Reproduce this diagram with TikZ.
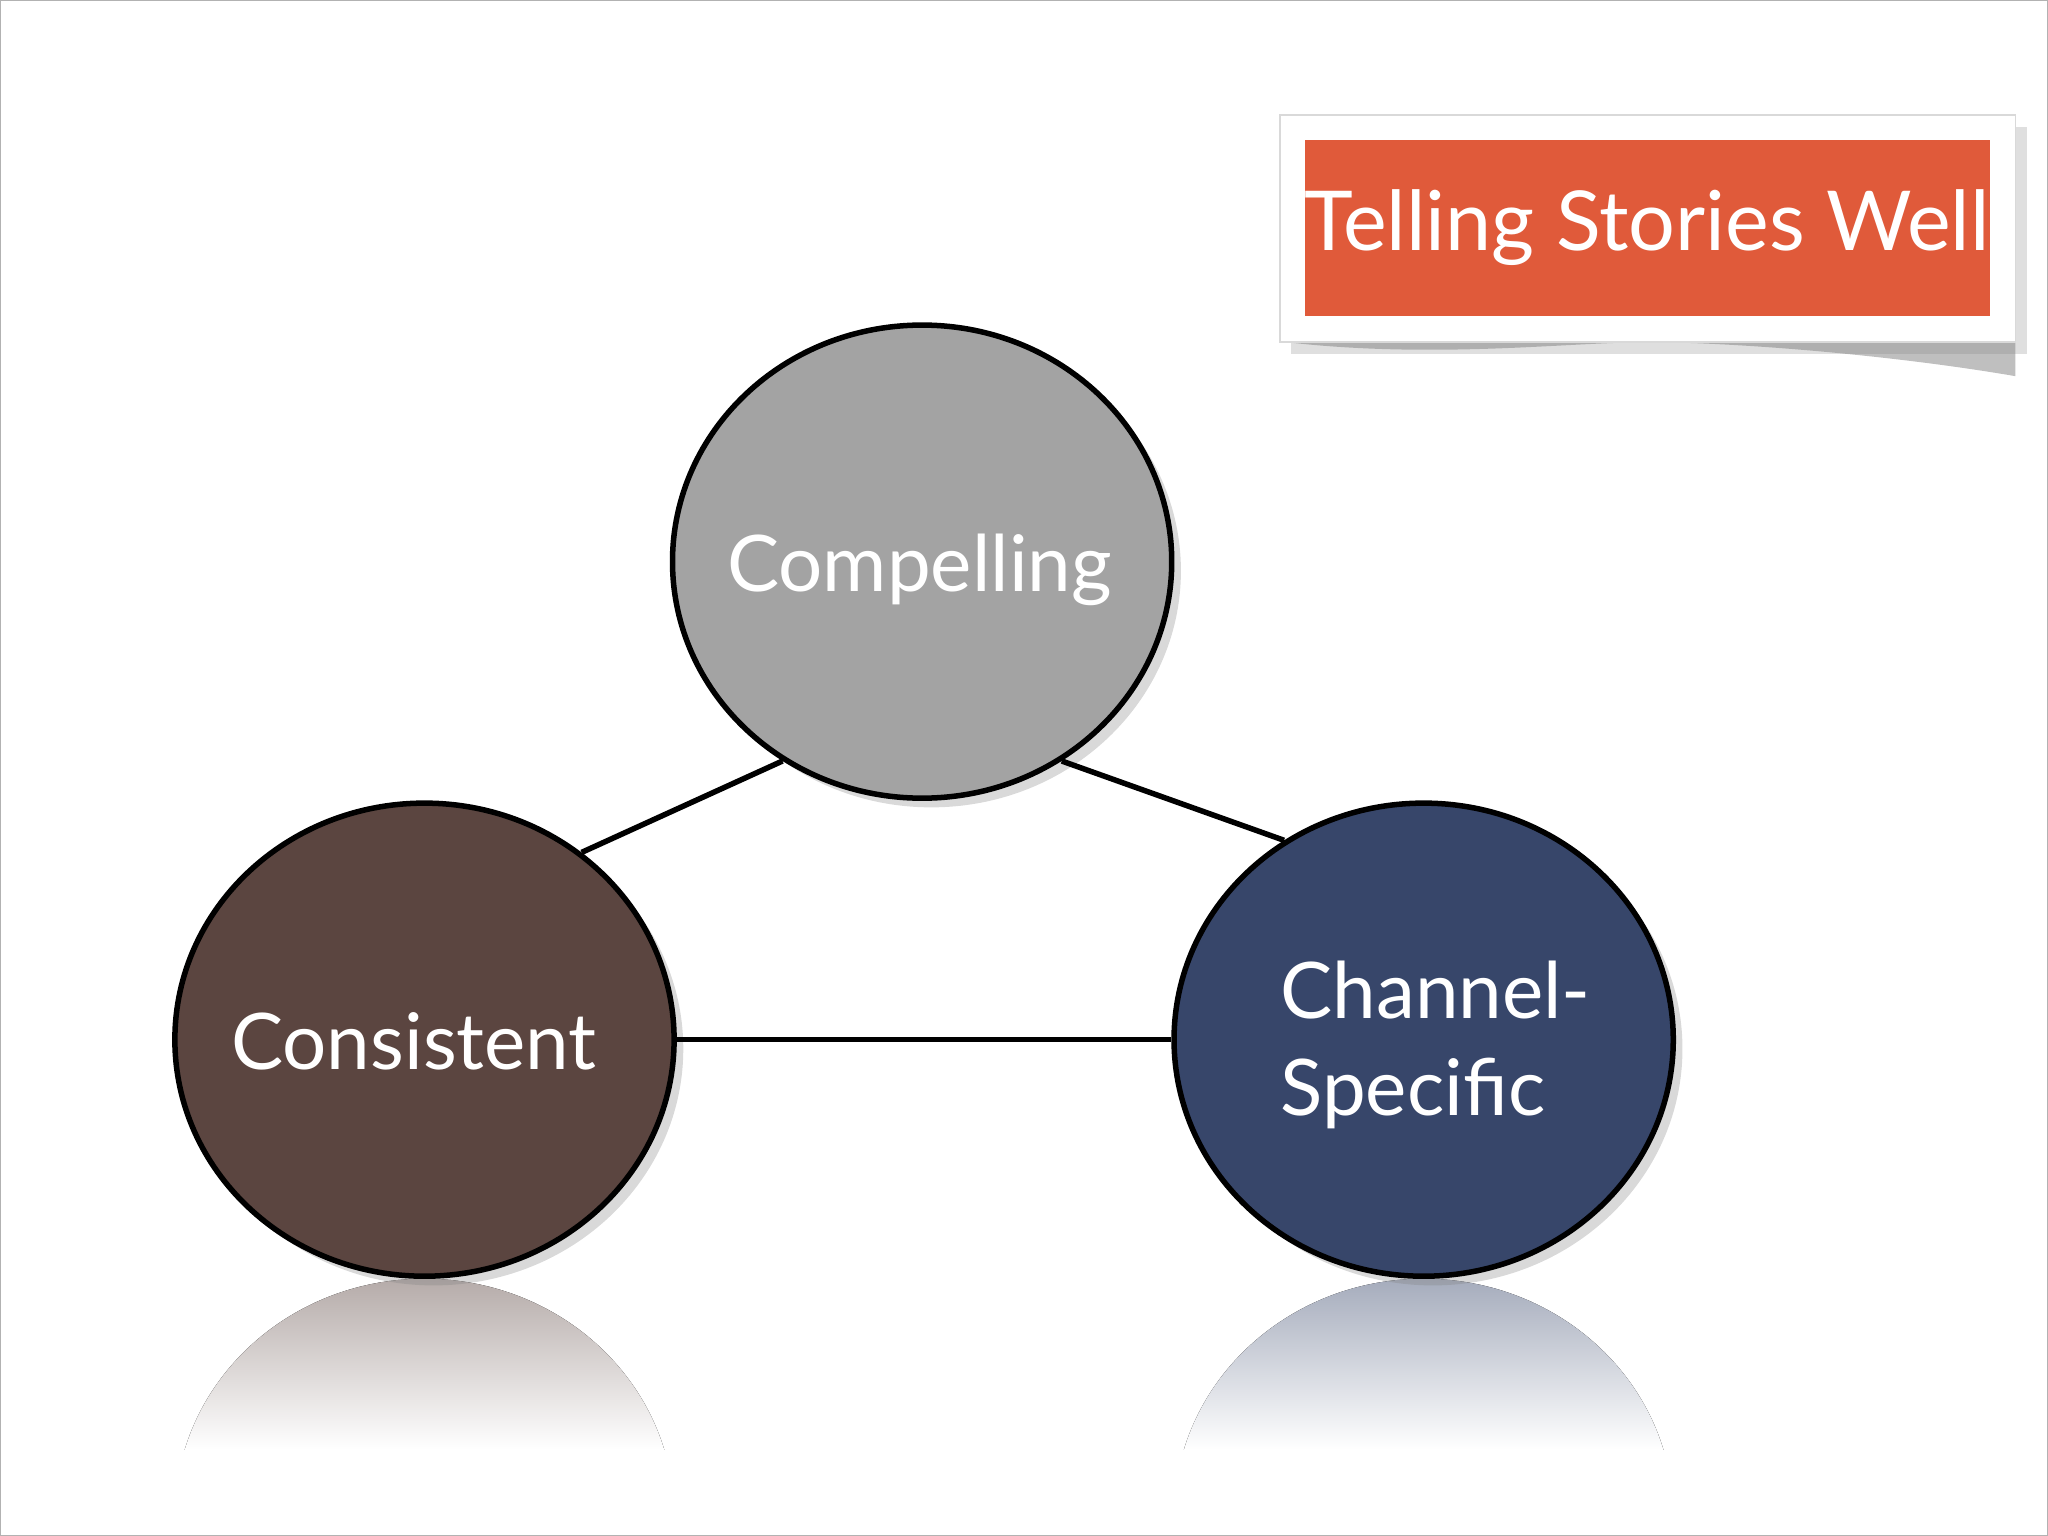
\documentclass[tikz,border=0pt]{standalone}
\usepackage{fontspec}
\setmainfont{Lato}
\usetikzlibrary{shadows,fadings,shapes.geometric}
\definecolor{cgray}{HTML}{A3A3A3}
\definecolor{cbrown}{HTML}{5B4540}
\definecolor{cnavy}{HTML}{37466A}
\definecolor{corange}{HTML}{E05A3A}
\begin{document}
\begin{tikzpicture}[x=0.01cm,y=-0.01cm,
  circ/.style={draw=black,line width=1.2pt,shape=ellipse,inner sep=0pt,minimum width=3.82cm,minimum height=3.62cm,
     drop shadow={opacity=0.3,shadow xshift=2pt,shadow yshift=-2pt}},
  lbl/.style={text=white,font=\fontsize{17}{21}\selectfont},
  link/.style={line width=1.2pt}]
\useasboundingbox (0,0) rectangle (1568,1176);
\draw[gray!60] (0,0) rectangle (1568,1176);
% reflections
\foreach \cx/\col in {325/cbrown,1090/cnavy}{
  \begin{scope}
    \clip (\cx,1160) ellipse [x radius=191, y radius=181];
    \fill[top color=\col!45!white,bottom color=white] (\cx-200,979) rectangle (\cx+200,1110);
  \end{scope}
}
\node[circ,fill=cgray] (comp) at (706,430) {};
\node[circ,fill=cbrown] (cons) at (325,796) {};
\node[circ,fill=cnavy] (chan) at (1090,796) {};
\node[lbl] (tcomp) at (704,436) {Compelling};
\node[lbl] (tcons) at (317,797) {Consistent};
\node[lbl,align=left,anchor=west] (tchan) at (968,800) {Channel-\\Specific};
\draw[link] (comp.-125) -- (cons.50);
\draw[link] (comp.-55) -- (chan.125);
\draw[link] (cons.east) -- (chan.west);
% title
\fill[black!25] (985,262) .. controls (1100,275) and (1200,262) .. (1262,262) .. controls (1330,262) and (1450,272) .. (1543,288) -- (1543,262) -- cycle;
\node[fill=white,draw=black!15,minimum width=5.63cm,minimum height=1.74cm,drop shadow={opacity=0.25}] (frame) at (1261.5,175) {};
\node[fill=corange,inner sep=0pt,minimum width=5.24cm,minimum height=1.35cm,text=white,font=\fontsize{18}{22}\selectfont] (title) at (1261,174.5) {Telling Stories Well};
\end{tikzpicture}
\end{document}
